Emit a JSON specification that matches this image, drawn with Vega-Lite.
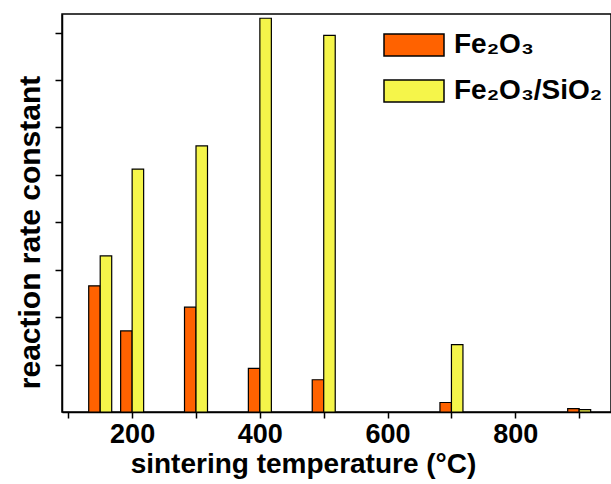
{
  "$schema": "https://vega.github.io/schema/vega-lite/v6.json",
  "width": 549,
  "height": 398,
  "autosize": "none",
  "padding": {"left": 62, "top": 14, "right": 0, "bottom": 72},
  "background": "white",
  "config": {
    "view": {"stroke": "black", "strokeWidth": 1.5},
    "font": "Liberation Sans"
  },
  "data": {
    "values": [
      {"temperature": 150, "sample": "Fe₂O₃", "k": 2.66},
      {"temperature": 150, "sample": "Fe₂O₃/SiO₂", "k": 3.29},
      {"temperature": 200, "sample": "Fe₂O₃", "k": 1.71},
      {"temperature": 200, "sample": "Fe₂O₃/SiO₂", "k": 5.12},
      {"temperature": 300, "sample": "Fe₂O₃", "k": 2.21},
      {"temperature": 300, "sample": "Fe₂O₃/SiO₂", "k": 5.61},
      {"temperature": 400, "sample": "Fe₂O₃", "k": 0.92},
      {"temperature": 400, "sample": "Fe₂O₃/SiO₂", "k": 8.3},
      {"temperature": 500, "sample": "Fe₂O₃", "k": 0.68},
      {"temperature": 500, "sample": "Fe₂O₃/SiO₂", "k": 7.94},
      {"temperature": 700, "sample": "Fe₂O₃", "k": 0.2},
      {"temperature": 700, "sample": "Fe₂O₃/SiO₂", "k": 1.42},
      {"temperature": 900, "sample": "Fe₂O₃", "k": 0.07},
      {"temperature": 900, "sample": "Fe₂O₃/SiO₂", "k": 0.05}
    ]
  },
  "encoding": {
    "x": {
      "field": "temperature",
      "type": "quantitative",
      "scale": {"domain": [98, 942], "nice": false, "zero": false},
      "axis": {
        "values": [100, 200, 300, 400, 500, 600, 700, 800, 900],
        "labelExpr": "datum.value % 200 === 0 ? datum.label : ''",
        "labelOverlap": false,
        "labelBound": false,
        "labelFlush": false,
        "grid": false,
        "domainColor": "black",
        "domainWidth": 1.5,
        "tickColor": "black",
        "tickWidth": 1.5,
        "tickSize": 6,
        "labelFontSize": 27,
        "labelFontWeight": "bold",
        "labelColor": "black",
        "labelPadding": 3,
        "title": "sintering temperature (°C)",
        "titleFontSize": 28,
        "titleFontWeight": "bold",
        "titleColor": "black",
        "titleAnchor": "middle",
        "titleX": 241,
        "titlePadding": 3
      }
    },
    "y": {
      "field": "k",
      "type": "quantitative",
      "scale": {"domain": [0, 8.39], "nice": false},
      "axis": {
        "values": [1, 2, 3, 4, 5, 6, 7, 8],
        "labels": false,
        "grid": false,
        "domainColor": "black",
        "domainWidth": 1.5,
        "tickColor": "black",
        "tickWidth": 1.5,
        "tickSize": 7,
        "title": "reaction rate constant",
        "titleFontSize": 30,
        "titleFontWeight": "bold",
        "titleColor": "black",
        "titleAnchor": "middle",
        "titleY": 218,
        "titlePadding": 9
      }
    },
    "color": {
      "field": "sample",
      "type": "nominal",
      "scale": {"domain": ["Fe₂O₃", "Fe₂O₃/SiO₂"], "range": ["#ff6200", "#f5f54a"]},
      "legend": {
        "orient": "none",
        "legendX": 321,
        "legendY": 0,
        "title": null,
        "symbolType": "M-1,-0.367H1V0.367H-1Z",
        "symbolSize": 3600,
        "symbolStrokeColor": "black",
        "symbolStrokeWidth": 1.5,
        "symbolOpacity": 1,
        "labelFontSize": 28,
        "labelFontWeight": "bold",
        "labelColor": "black",
        "labelOffset": 9,
        "rowPadding": -1,
        "padding": 0
      }
    }
  },
  "layer": [
    {
      "transform": [{"filter": "datum.sample === 'Fe₂O₃'"}],
      "mark": {"type": "bar", "width": 11.5, "xOffset": -5.75, "stroke": "black", "strokeWidth": 1.2, "opacity": 1}
    },
    {
      "transform": [{"filter": "datum.sample === 'Fe₂O₃/SiO₂'"}],
      "mark": {"type": "bar", "width": 11.5, "xOffset": 5.75, "stroke": "black", "strokeWidth": 1.2, "opacity": 1}
    }
  ]
}
